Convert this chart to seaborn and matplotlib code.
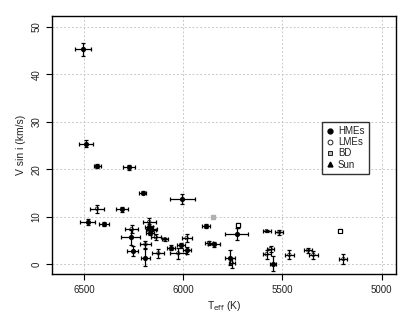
import numpy as np
import pandas as pd
import matplotlib
matplotlib.use("Agg")
import matplotlib.pyplot as plt
from matplotlib.lines import Line2D
import seaborn as sns

# host star values: Teff, Teff error, vsini, vsini error
hme_teff = [6505, 6490, 6433, 6273, 6203, 6005, 6307, 6481, 6399, 6170, 6163, 6168,
            6265, 6255, 6190, 6063, 6011, 5983, 5885, 5730, 5845, 5764, 5546]
hme_teff_err = [40, 37, 18, 31, 18, 62, 31, 38, 27, 20, 25, 20,
                48, 28, 25, 20, 20, 20, 20, 58, 30, 25, 15]
hme_vsini = [45.3, 25.4, 20.7, 20.4, 15.1, 13.7, 11.6, 8.9, 8.5, 7.9, 7.2, 6.6,
             5.7, 2.8, 1.4, 3.5, 4.0, 2.9, 8.0, 6.4, 4.2, 1.4, 0.1]
hme_vsini_err = [1.4, 0.7, 0.5, 0.6, 0.3, 1.1, 0.5, 0.7, 0.5, 0.6, 0.6, 0.5,
                 1.6, 1.0, 1.8, 0.5, 0.5, 0.7, 0.4, 1.2, 0.5, 1.5, 1.6]

lme_teff = [6434, 6171, 6158, 6260, 6190, 6138, 6125, 6092, 6025, 5983, 5870,
            5756, 5580, 5516, 5560, 5580, 5465, 5370, 5344, 5193]
lme_teff_err = [35, 34, 25, 32, 27, 25, 30, 15, 40, 25, 20,
                15, 20, 20, 18, 20, 23, 20, 23, 20]
lme_vsini = [11.7, 8.9, 7.5, 7.4, 4.2, 5.7, 2.3, 5.3, 2.3, 5.5, 4.5,
             0.3, 7.0, 6.7, 3.2, 2.1, 2.0, 2.9, 2.0, 1.1]
lme_vsini_err = [0.8, 0.8, 0.6, 0.8, 0.8, 0.6, 1.0, 0.3, 1.2, 0.8, 0.4,
                 1.0, 0.3, 0.5, 0.6, 1.0, 0.9, 0.6, 0.8, 1.0]

bd_teff = [5724, 5210]
bd_teff_err = [10, 10]
bd_vsini = [8.2, 7.1]
bd_vsini_err = [0.5, 0.3]

grey_teff = [5850]
grey_vsini = [10.0]


def main():
    sns.set_style("white")
    plt.rcParams['font.family'] = ['Liberation Sans', 'DejaVu Sans']
    txt = '#222222'

    df = pd.concat([
        pd.DataFrame({'teff': hme_teff, 'teff_err': hme_teff_err, 'vsini': hme_vsini,
                      'vsini_err': hme_vsini_err, 'group': 'HMEs'}),
        pd.DataFrame({'teff': lme_teff, 'teff_err': lme_teff_err, 'vsini': lme_vsini,
                      'vsini_err': lme_vsini_err, 'group': 'LMEs'}),
        pd.DataFrame({'teff': bd_teff, 'teff_err': bd_teff_err, 'vsini': bd_vsini,
                      'vsini_err': bd_vsini_err, 'group': 'BD'}),
    ], ignore_index=True)

    fig = plt.figure(figsize=(4.11, 3.13), dpi=100)
    ax = fig.add_axes([0.127, 0.124, 0.836, 0.826])

    ax.errorbar(df.teff, df.vsini, xerr=df.teff_err, yerr=df.vsini_err, fmt='none',
                ecolor='black', elinewidth=0.9, capsize=1.6, capthick=0.9, zorder=2)

    sns.scatterplot(data=df[df.group == 'HMEs'], x='teff', y='vsini', ax=ax, marker='o',
                    color='black', s=14, linewidth=0, zorder=3, legend=False)
    sns.scatterplot(data=df[df.group == 'LMEs'], x='teff', y='vsini', ax=ax, marker='o',
                    facecolor='none', edgecolor='black', s=6, linewidth=0.5, zorder=3, legend=False)
    sns.scatterplot(data=df[df.group == 'BD'], x='teff', y='vsini', ax=ax, marker='s',
                    facecolor='white', edgecolor='black', s=10, linewidth=0.8, zorder=3, legend=False)
    ax.scatter(grey_teff, grey_vsini, marker='s', color='#b0b0b0', s=8, zorder=3)

    ax.set_xlim(6660, 4929)
    ax.set_ylim(-2.1, 52.4)
    ax.set_xticks([6500, 6000, 5500, 5000])
    ax.set_yticks([0, 10, 20, 30, 40, 50])
    ax.grid(True, color='#c8c8c8', linestyle=(0, (2, 2)), linewidth=0.7)
    ax.set_axisbelow(True)
    for s in ax.spines.values():
        s.set_color('black')
        s.set_linewidth(1.0)
    ax.tick_params(axis='both', which='major', length=4, width=0.8, color='black',
                   labelsize=7, labelcolor=txt, bottom=True, left=True, direction='out')
    plt.setp(ax.get_yticklabels(), rotation=90, va='center')

    ax.set_xlabel(r'T$_{\mathrm{eff}}$ (K)', fontsize=7.5, color=txt, labelpad=3)
    ax.set_ylabel('V sin i (km/s)', fontsize=7.5, color=txt, labelpad=4)

    handles = [
        Line2D([], [], marker='o', color='black', linestyle='none', markersize=3.5),
        Line2D([], [], marker='o', markerfacecolor='none', markeredgecolor='black',
               linestyle='none', markersize=3.5, markeredgewidth=0.6),
        Line2D([], [], marker='s', markerfacecolor='#bbbbbb', markeredgecolor='black',
               linestyle='none', markersize=3.5, markeredgewidth=0.6),
        Line2D([], [], marker='^', color='black', linestyle='none', markersize=3.5),
    ]
    leg = ax.legend(handles, ['HMEs', 'LMEs', 'BD', 'Sun'], loc='upper left',
                    bbox_to_anchor=(0.785, 0.59), fontsize=7, frameon=True, fancybox=False,
                    handlelength=0.8, handletextpad=0.4, borderpad=0.45, labelspacing=0.12,
                    borderaxespad=0)
    leg.get_frame().set_edgecolor('black')
    leg.get_frame().set_linewidth(1.0)
    for t in leg.get_texts():
        t.set_color(txt)

    plt.savefig("out.png", dpi=100)
    plt.close()


if __name__ == "__main__":
    main()
